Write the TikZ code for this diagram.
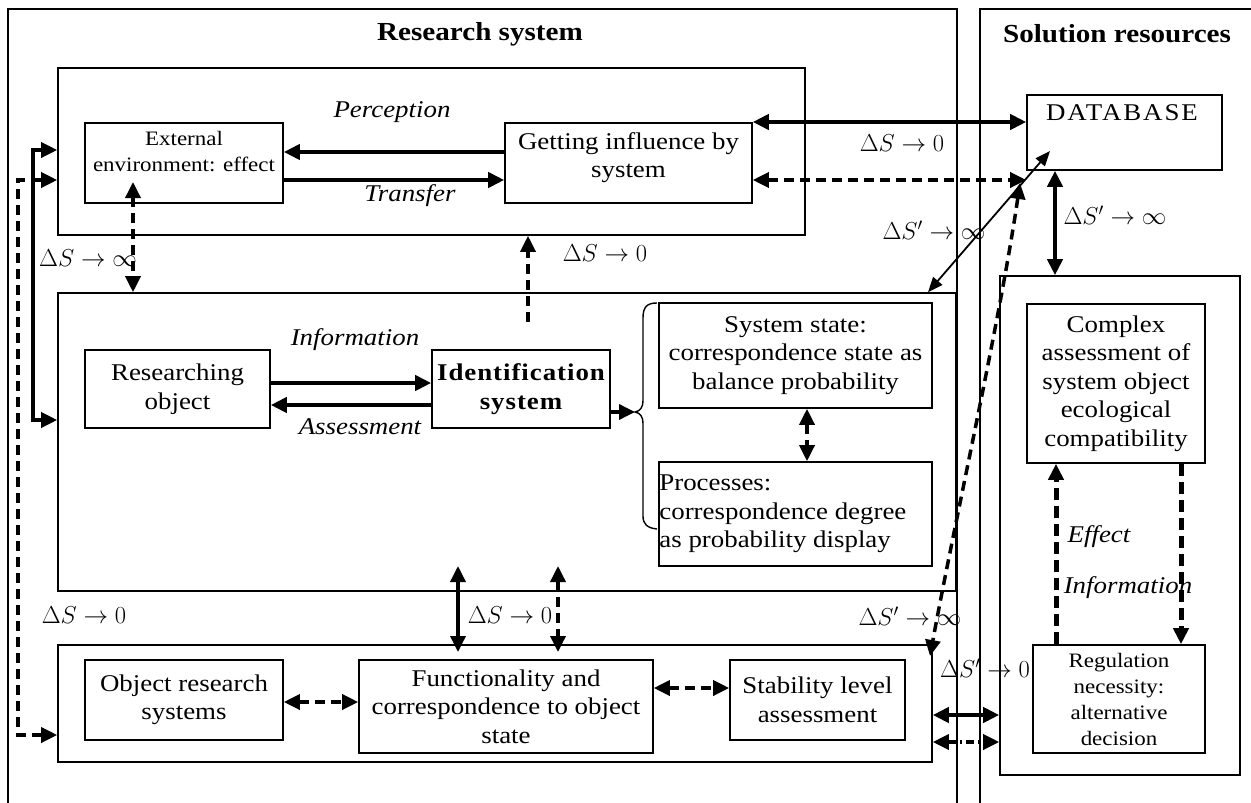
\RequirePackage{fix-cm}
\documentclass[tikz,border=0pt]{standalone}
\usepackage{fontspec}
\setmainfont[FakeStretch=1.12]{Liberation Serif}
\usetikzlibrary{arrows.meta,calc}
\newcommand\fmain{\fontsize{24}{28.5}\selectfont}
\newcommand\fsmall{\fontsize{20.5}{26}\selectfont}
\newcommand\ftitle{\fontsize{26}{30}\selectfont\bfseries}
\newcommand\fmath{\fontsize{24.5}{30}\selectfont}
\begin{document}
\begin{tikzpicture}[x=1pt,y=-1pt,
  box/.style={draw, line width=1.6pt, inner sep=0pt, align=center, font=\fmain},
  frameline/.style={draw, line width=1.6pt},
  lbl/.style={font=\fmain\itshape, inner sep=1pt},
  mlbl/.style={font=\fmath, inner sep=1pt},
  >={Triangle[length=16pt,width=15pt]},
  thickarr/.style={line width=4.5pt},
  medarr/.style={line width=3.5pt},
  thinarr/.style={line width=1.8pt, >={Triangle[length=15pt,width=12pt]}},
  dasharr/.style={line width=3.5pt, dash pattern=on 10pt off 6pt},
  heavydash/.style={line width=5pt, dash pattern=on 12pt off 6pt},
  dashdotarr/.style={line width=3.5pt, dash pattern=on 8pt off 4pt on 2pt off 4pt}]
\useasboundingbox (0,0) rectangle (1251,803);
\fill[white] (0,0) rectangle (1251,803);

% outer frames
\draw[frameline] (8,803) |- (957,9) -- (957,803);
\draw[frameline] (980,803) |- (1251,9);
\node[font=\ftitle] (rstitle) at (480,34) {Research system};
\node[font=\ftitle] (srtitle) at (1117,34) {Solution resources};

% group boxes
\node[box, minimum width=747pt, minimum height=167pt] (top) at (431.5,151.5) {};
\node[box, minimum width=898pt, minimum height=298pt] (mid) at (507,442) {};
\node[box, minimum width=874pt, minimum height=117pt] (bot) at (495,703.5) {};
\node[box, minimum width=240pt, minimum height=499pt] (sol) at (1120,525.5) {};

% top group
\node[box, minimum width=198pt, minimum height=80pt] (ext) at (184,163) {};
\node[font=\fsmall, align=center, anchor=north, inner sep=0pt] (exttext) at (184,131) {External\\environment: effect};
\node[box, minimum width=247pt, minimum height=80pt] (get) at (628.5,163) {};
\node[font=\fmain, align=center, anchor=north, inner sep=0pt] (gettext) at (628.5,132) {Getting influence by\\system};

% middle group
\node[box, minimum width=185pt, minimum height=78pt] (res) at (177.5,389) {Researching\\object};
\node[box, minimum width=178pt, minimum height=78pt, font=\fmain\bfseries\addfontfeatures{LetterSpace=4}] (ident) at (521,389) {Identification\\system};
\node[box, minimum width=273pt, minimum height=105pt] (sst) at (795.5,355.5) {System state:\\correspondence state as\\balance probability};
\node[box, minimum width=273pt, minimum height=104pt] (proc) at (795.5,514) {};
\node[font=\fmain, align=left, anchor=west, inner sep=0pt] (proctext) at ([xshift=1pt]proc.west) {Processes:\\correspondence degree\\as probability display};

% bottom group
\node[box, minimum width=198pt, minimum height=80pt] (ors) at (184,700) {Object research\\systems};
\node[box, minimum width=294pt, minimum height=93pt] (func) at (506,706.5) {Functionality and\\correspondence to object\\state};
\node[box, minimum width=175pt, minimum height=80pt] (stab) at (817.5,700) {Stability level\\assessment};

% solution resources
\node[box, minimum width=195pt, minimum height=75pt] (db) at (1124.5,132.5) {};
\node[font=\fmain\addfontfeatures{LetterSpace=8}, anchor=north, inner sep=0pt] (dbtext) at (1122,104) {DATABASE};
\node[box, minimum width=178pt, minimum height=159pt] (cplx) at (1116,383.5) {Complex\\assessment of\\system object\\ecological\\compatibility};
\node[box, minimum width=172pt, minimum height=108pt, font=\fsmall] (reg) at (1119,699) {Regulation\\necessity:\\alternative\\decision};

% top group connectors
\draw[thickarr,->] (get.west |- 0,152) -- (ext.east |- 0,152);
\draw[thickarr,->] (ext.east |- 0,180) -- (get.west |- 0,180);
\node[lbl] (perc) at (392,112) {Perception};
\node[lbl] (trans) at (410,196) {Transfer};

% to database
\draw[thickarr,<->] (get.east |- 0,122) -- (db.west |- 0,122);
\node[mlbl] (l1) at (902,143) {$\Delta S \to 0$};
\draw[dasharr,<->] (get.east |- 0,180) -- (db.west |- 0,180);
\coordinate (dgtop) at (1050,151);
\draw[thinarr,<->] (dgtop) -- (mid.north -| 928,0);
\node[mlbl] (l2) at (934,230) {$\Delta S' \to \infty$};
\draw[thickarr,<->] (db.south -| 1055,0) -- (sol.north -| 1055,0);
\node[mlbl] (l3) at (1115,215) {$\Delta S' \to \infty$};

% solution internal
\draw[heavydash,->] (reg.north -| 1056,0) -- (cplx.south -| 1056,0);
\draw[heavydash,->] (cplx.south -| 1181,0) -- (reg.north -| 1181,0);
\node[lbl] (eff) at (1099,537) {Effect};
\node[lbl] (info2) at (1128,588) {Information};

% top <-> middle
\coordinate (extin) at (133,182);
\draw[dasharr,<->] (extin) -- (mid.north -| 133,0);
\node[mlbl] (l4) at (88,258) {$\Delta S \to \infty$};
\coordinate (midin) at (528,322);
\draw[dasharr,->] (midin) -- (top.south -| 528,0);
\node[mlbl] (l5) at (605,253) {$\Delta S \to 0$};

% middle group connectors
\draw[thickarr,->] (res.east |- 0,383) -- (ident.west |- 0,383);
\draw[thickarr,->] (ident.west |- 0,405) -- (res.east |- 0,405);
\node[lbl] (info1) at (355,340) {Information};
\node[lbl] (assess) at (360,427) {Assessment};
\coordinate (bracetip) at (635,412);
\draw[medarr,->] (ident.east |- 0,412) -- (bracetip);
\draw[line width=1.4pt] (657,303) .. controls (647,303) and (643,307) .. (643,318) -- (643,400)
   .. controls (643,408) and (640,411) .. (bracetip) .. controls (640,413) and (643,416) .. (643,424)
   -- (643,516) .. controls (643,524) and (647,528) .. (657,529);
\draw[dasharr,<->] (sst.south -| 807,0) -- (proc.north -| 807,0);

% left feedback lines
\draw[medarr,<->] (top.west |- 0,150) -| (33,420) -- (mid.west |- 0,420);
\coordinate (dleft) at (33,180);
\draw[dasharr,{Triangle[length=16pt,width=15pt]}-] (bot.west |- 0,735) -| (18,180) -- (dleft);
\draw[medarr,->] (dleft) -- (top.west |- 0,180);

% middle <-> bottom
\coordinate (v1a) at (458,566);
\coordinate (v1b) at (458,652);
\coordinate (v2a) at (558,566);
\coordinate (v2b) at (558,652);
\draw[medarr,<->] (v1a) -- (v1b);
\draw[dasharr,<->] (v2a) -- (v2b);
\node[mlbl] (l6) at (84,615) {$\Delta S \to 0$};
\node[mlbl] (l7) at (510,615) {$\Delta S \to 0$};

% bottom group connectors
\draw[dasharr,<->] (ors.east |- 0,702) -- (func.west |- 0,702);
\draw[dasharr,<->] (func.east |- 0,688) -- (stab.west |- 0,688);

% database -> bottom group
\coordinate (dbdash) at (1020,183);
\coordinate (botdash) at (930,656);
\draw[dasharr,<->] (dbdash) .. controls (1000,320) and (955,520) .. (botdash);
\node[mlbl] (l8) at (910,616) {$\Delta S' \to \infty$};
\node[mlbl] (l9) at (985,668) {$\Delta S' \to 0$};

% bottom <-> solution
\draw[thickarr,<->] (bot.east |- 0,715) -- (sol.west |- 0,715);
\draw[dashdotarr,<->] (bot.east |- 0,742) -- (sol.west |- 0,742);
\end{tikzpicture}
\end{document}
